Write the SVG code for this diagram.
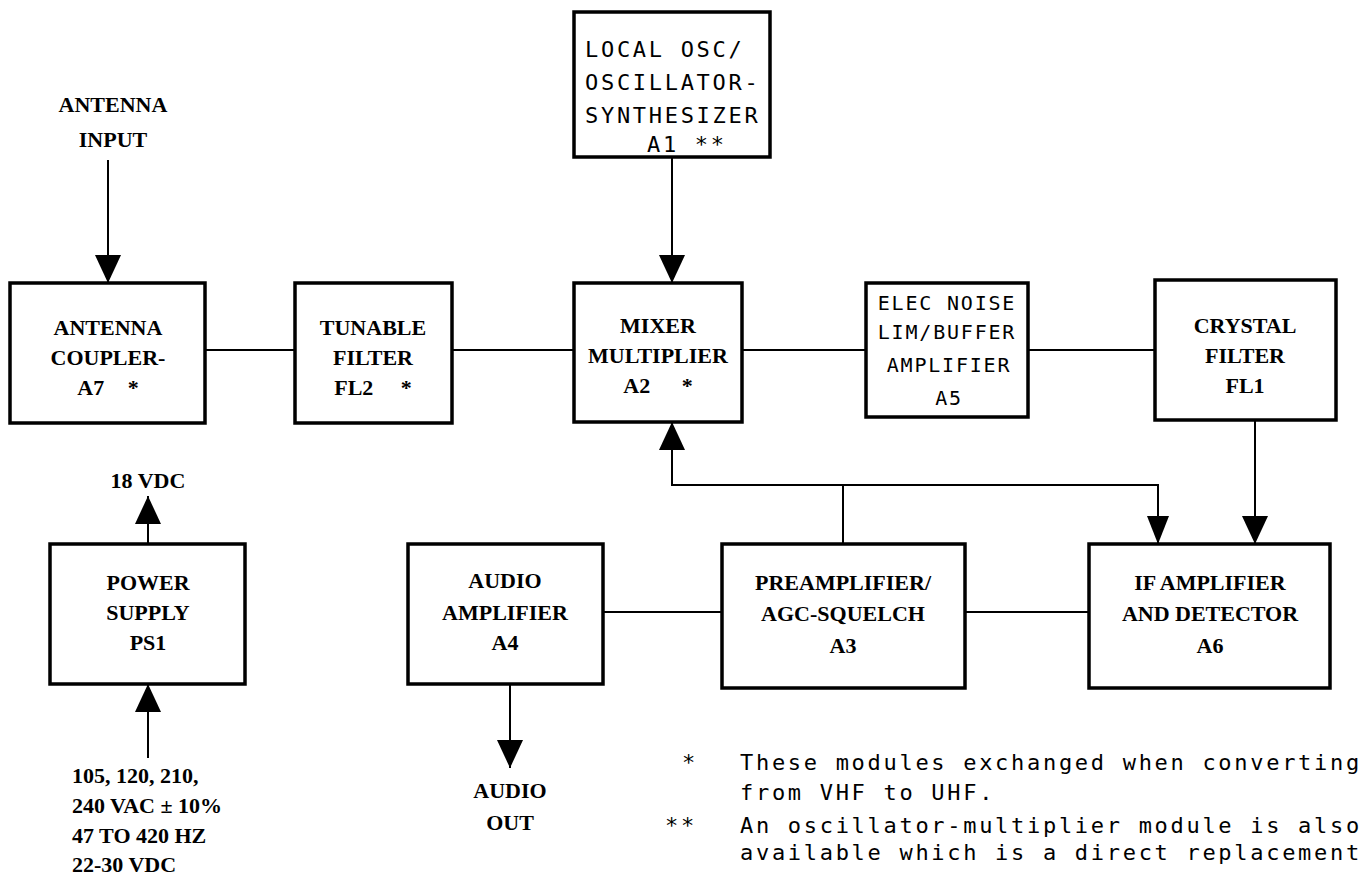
<svg xmlns="http://www.w3.org/2000/svg" width="1364" height="892" viewBox="0 0 1364 892">
<style>
.box{fill:#fff;stroke:#000;stroke-width:3.5}
.ln{fill:none;stroke:#000;stroke-width:2}
.b{font-family:"Liberation Serif",serif;font-weight:bold;font-size:22px;text-anchor:middle;fill:#000}
.bl{font-family:"Liberation Serif",serif;font-weight:bold;font-size:22px;fill:#000}
.m{font-family:"DejaVu Sans Mono",monospace;font-size:22px;fill:#000;letter-spacing:2.7px}
.ms{font-family:"DejaVu Sans Mono",monospace;font-size:20px;fill:#000;letter-spacing:1.8px}
</style>
<defs>
<marker id="ah" viewBox="0 0 28 26" refX="28" refY="13" markerWidth="28" markerHeight="26" markerUnits="userSpaceOnUse" orient="auto">
<path d="M0,0 L28,13 L0,26 Z" fill="#000"/>
</marker>
<marker id="ahs" viewBox="0 0 28 22" refX="28" refY="11" markerWidth="28" markerHeight="22" markerUnits="userSpaceOnUse" orient="auto">
<path d="M0,0 L28,11 L0,22 Z" fill="#000"/>
</marker>
</defs>
<rect width="1364" height="892" fill="#fff"/>
<g id="connectors">
<line class="ln" x1="108" y1="160" x2="108" y2="283" marker-end="url(#ah)"/>
<line class="ln" x1="672" y1="157" x2="672" y2="283" marker-end="url(#ah)"/>
<line class="ln" x1="205" y1="350" x2="295" y2="350"/>
<line class="ln" x1="452" y1="350" x2="574" y2="350"/>
<line class="ln" x1="742" y1="350" x2="866" y2="350"/>
<line class="ln" x1="1028" y1="350" x2="1155" y2="350"/>
<line class="ln" x1="843" y1="544" x2="843" y2="485"/>
<path class="ln" d="M843,485 H672 V422" marker-end="url(#ah)"/>
<path class="ln" d="M843,485 H1158 V544" marker-end="url(#ahs)"/>
<line class="ln" x1="1255" y1="420" x2="1255" y2="544" marker-end="url(#ah)"/>
<line class="ln" x1="148" y1="544" x2="148" y2="496" marker-end="url(#ah)"/>
<line class="ln" x1="148" y1="758" x2="148" y2="684" marker-end="url(#ah)"/>
<line class="ln" x1="603" y1="612" x2="722" y2="612"/>
<line class="ln" x1="965" y1="612" x2="1089" y2="612"/>
<line class="ln" x1="510" y1="684" x2="510" y2="768" marker-end="url(#ah)"/>
</g>
<g id="antenna-input">
<text class="b" x="113" y="112">ANTENNA</text>
<text class="b" x="113" y="147">INPUT</text>
</g>
<g id="local-osc">
<rect class="box" x="574" y="12" width="196" height="145"/>
<text class="m" x="585" y="57">LOCAL OSC/</text>
<text class="m" x="585" y="90">OSCILLATOR-</text>
<text class="m" x="585" y="123">SYNTHESIZER</text>
<text class="m" x="647" y="152">A1 **</text>
</g>
<g id="antenna-coupler">
<rect class="box" x="10" y="283" width="195" height="140"/>
<text class="b" x="108" y="335">ANTENNA</text>
<text class="b" x="108" y="365">COUPLER-</text>
<text class="b" x="108" y="395">A7 <tspan dx="18">*</tspan></text>
</g>
<g id="tunable-filter">
<rect class="box" x="295" y="283" width="157" height="140"/>
<text class="b" x="373" y="335">TUNABLE</text>
<text class="b" x="373" y="365">FILTER</text>
<text class="b" x="373" y="395">FL2 <tspan dx="22">*</tspan></text>
</g>
<g id="mixer">
<rect class="box" x="574" y="283" width="168" height="139"/>
<text class="b" x="658" y="333">MIXER</text>
<text class="b" x="658" y="363">MULTIPLIER</text>
<text class="b" x="658" y="393">A2 <tspan dx="26">*</tspan></text>
</g>
<g id="elec-noise">
<rect class="box" x="866" y="283" width="162" height="134"/>
<text class="ms" x="947" y="310" text-anchor="middle">ELEC NOISE</text>
<text class="ms" x="947" y="339" text-anchor="middle">LIM/BUFFER</text>
<text class="ms" x="949" y="372" text-anchor="middle">AMPLIFIER</text>
<text class="ms" x="949" y="405" text-anchor="middle">A5</text>
</g>
<g id="crystal-filter">
<rect class="box" x="1155" y="280" width="181" height="140"/>
<text class="b" x="1245" y="333">CRYSTAL</text>
<text class="b" x="1245" y="363">FILTER</text>
<text class="b" x="1245" y="393">FL1</text>
</g>
<g id="vdc-out">
<text class="b" x="148" y="488">18 VDC</text>
</g>
<g id="power-supply">
<rect class="box" x="50" y="544" width="195" height="140"/>
<text class="b" x="148" y="590">POWER</text>
<text class="b" x="148" y="620">SUPPLY</text>
<text class="b" x="148" y="650">PS1</text>
</g>
<g id="power-input">
<text class="bl" x="72" y="783">105, 120, 210,</text>
<text class="bl" x="72" y="813">240 VAC ± 10%</text>
<text class="bl" x="72" y="843">47 TO 420 HZ</text>
<text class="bl" x="72" y="872">22-30 VDC</text>
</g>
<g id="audio-amplifier">
<rect class="box" x="408" y="544" width="195" height="140"/>
<text class="b" x="505" y="588">AUDIO</text>
<text class="b" x="505" y="620">AMPLIFIER</text>
<text class="b" x="505" y="650">A4</text>
</g>
<g id="audio-out">
<text class="b" x="510" y="798">AUDIO</text>
<text class="b" x="510" y="830">OUT</text>
</g>
<g id="preamplifier">
<rect class="box" x="722" y="544" width="243" height="144"/>
<text class="b" x="843" y="590">PREAMPLIFIER/</text>
<text class="b" x="843" y="621">AGC-SQUELCH</text>
<text class="b" x="843" y="653">A3</text>
</g>
<g id="if-amplifier">
<rect class="box" x="1089" y="544" width="241" height="144"/>
<text class="b" x="1210" y="590">IF AMPLIFIER</text>
<text class="b" x="1210" y="621">AND DETECTOR</text>
<text class="b" x="1210" y="653">A6</text>
</g>
<g id="notes">
<text class="m" x="682" y="770">*</text>
<text class="m" x="740" y="770">These modules exchanged when converting</text>
<text class="m" x="740" y="800">from VHF to UHF.</text>
<text class="m" x="665" y="833">**</text>
<text class="m" x="740" y="833">An oscillator-multiplier module is also</text>
<text class="m" x="740" y="860">available which is a direct replacement</text>
</g>
</svg>
